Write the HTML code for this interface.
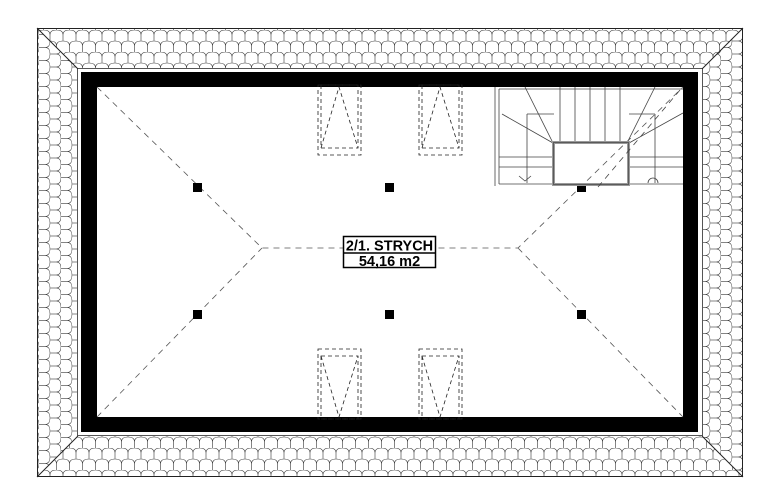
<!DOCTYPE html>
<html><head><meta charset="utf-8"><style>body{margin:0;background:#fff}svg{display:block}</style></head>
<body>
<svg width="780" height="503" viewBox="0 0 780 503" xmlns="http://www.w3.org/2000/svg">
<defs>
<pattern id="th" width="13" height="22" patternUnits="userSpaceOnUse" x="37" y="30">
<path d="M0 11 V5 Q0 0 6.5 0 Q13 0 13 5 V11 M6.5 22 V16 Q6.5 11 13 11 M6.5 16 Q6.5 11 0 11" fill="none" stroke="#333" stroke-width="0.6"/>
</pattern>
<pattern id="tv" width="13" height="22" patternUnits="userSpaceOnUse" x="39" y="28" patternTransform="rotate(90 39 28)">
<path d="M0 11 V5 Q0 0 6.5 0 Q13 0 13 5 V11 M6.5 22 V16 Q6.5 11 13 11 M6.5 16 Q6.5 11 0 11" fill="none" stroke="#333" stroke-width="0.6"/>
</pattern>
</defs>
<polygon points="37,28 743,28 698,72 81,72" fill="url(#th)"/>
<polygon points="37,477 743,477 698,432 81,432" fill="url(#th)"/>
<polygon points="37,28 81,72 81,432 37,477" fill="url(#tv)"/>
<polygon points="743,28 698,72 698,432 743,477" fill="url(#tv)"/>
<rect x="37.5" y="28.5" width="705" height="448" fill="none" stroke="#222" stroke-width="1"/>
<rect x="77.5" y="68.5" width="625" height="367" fill="#fff" stroke="#555" stroke-width="1"/>
<line x1="37" y1="28" x2="78" y2="69" stroke="#222"/>
<line x1="743" y1="28" x2="702" y2="69" stroke="#222"/>
<line x1="37" y1="477" x2="78" y2="436" stroke="#222"/>
<line x1="743" y1="477" x2="702" y2="436" stroke="#222"/>
<rect x="81" y="72" width="617" height="360" fill="#000"/>
<rect x="97" y="87" width="586" height="330" fill="#fff"/>
<g stroke="#555" stroke-width="0.8" stroke-dasharray="6,5" fill="none">
<path d="M97 87 L262 248 L518 248 L683 87 M97 417 L262 248 M518 248 L683 417"/>
</g>
<g fill="#000">
<rect x="193" y="183" width="9" height="9"/><rect x="385" y="183" width="9" height="9"/><rect x="577" y="183" width="9" height="9"/>
<rect x="193" y="310" width="9" height="9"/><rect x="385" y="310" width="9" height="9"/><rect x="577" y="310" width="9" height="9"/>
</g>
<g stroke="#222" stroke-width="0.8" stroke-dasharray="4,3" fill="none">
<rect x="318" y="85" width="43" height="70"/><rect x="321" y="85" width="37" height="63"/><path d="M321 148 L339 87 L358 148"/>
<rect x="419" y="85" width="43" height="70"/><rect x="422" y="85" width="37" height="63"/><path d="M422 148 L440 87 L459 148"/>
<rect x="318" y="349" width="43" height="70"/><rect x="321" y="356" width="37" height="63"/><path d="M321 356 L339 417 L358 356"/>
<rect x="419" y="349" width="43" height="70"/><rect x="422" y="356" width="37" height="63"/><path d="M422 356 L440 417 L459 356"/>
</g>
<g fill="none" stroke="#444" stroke-width="0.8">
<path d="M495 87 V186 M499 89 V184 M499 89 H683"/>
<path d="M499 184 H683"/>
<path d="M525 87 L553 143 M552 157 H499 M552 167 H499 M527 114 H554 M527 114 V183 M519 176 L525 181 L531 176"/>
<path d="M560 87 V143 M575 87 V143 M590 87 V143 M605 87 V143 M620 87 V143"/>
<path d="M655 87 L627 143 M629 157 H683 M629 167 H683 M655 114 H629 M655 114 V183 M502 114 L553 143 M683 113 L629 143"/>
<path d="M648 183 A5 5 0 0 1 658 183"/>
</g>
<rect x="553.5" y="142.5" width="75" height="42" fill="none" stroke="#999" stroke-width="3"/>
<rect x="553.5" y="142.5" width="75" height="42" fill="none" stroke="#333" stroke-width="0.6"/>
<path d="M598 187 L680 90" stroke="#444" stroke-width="0.8" stroke-dasharray="6,5"/>
<rect x="343.5" y="236.5" width="92" height="31" fill="#fff" stroke="#000" stroke-width="1.5"/>
<line x1="343" y1="253" x2="436" y2="253" stroke="#000" stroke-width="1.5"/>
<text x="389.5" y="250.5" text-anchor="middle" font-family="Liberation Sans, sans-serif" font-weight="bold" font-size="14.5">2/1. STRYCH</text>
<text x="389.5" y="266" text-anchor="middle" font-family="Liberation Sans, sans-serif" font-weight="bold" font-size="14.5">54,16 m2</text>
</svg>
</body></html>
